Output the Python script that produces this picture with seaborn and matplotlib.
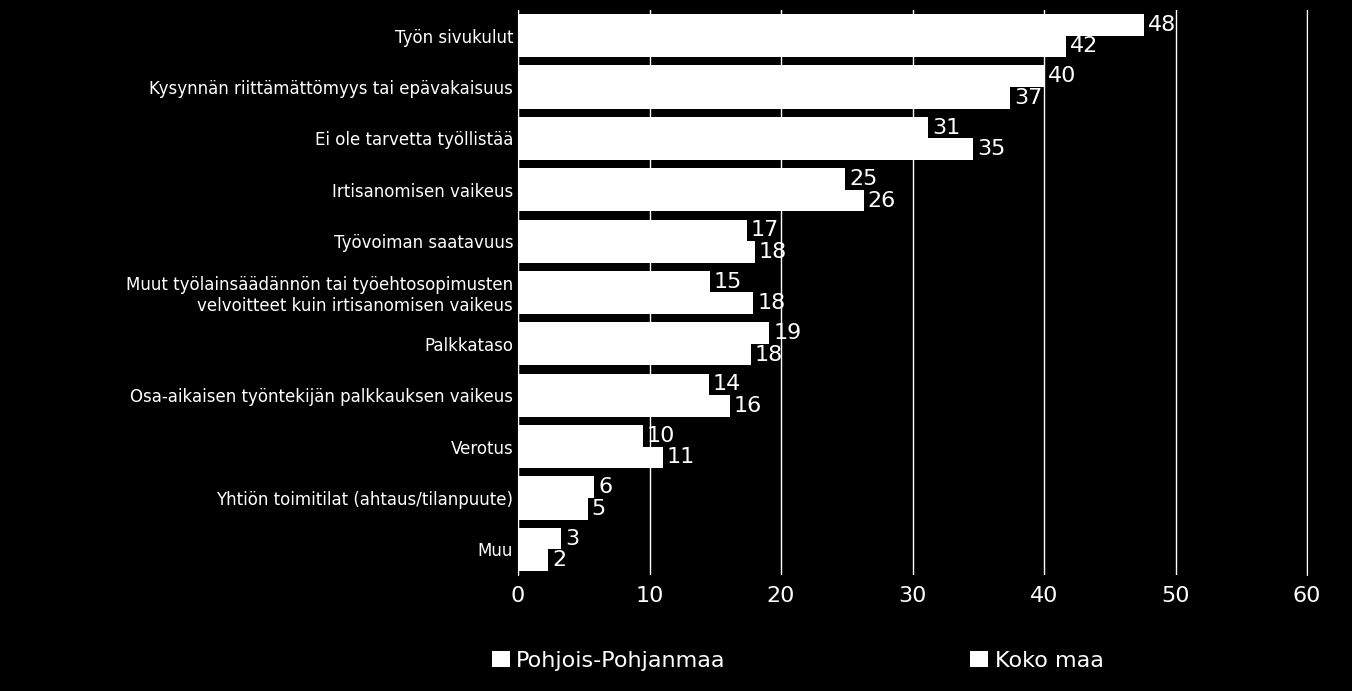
import matplotlib
matplotlib.use("Agg")
import matplotlib.pyplot as plt
import seaborn as sns
import pandas as pd

categories = ["Työn sivukulut", "Kysynnän riittämättömyys tai epävakaisuus", "Ei ole tarvetta työllistää",
              "Irtisanomisen vaikeus", "Työvoiman saatavuus",
              "Muut työlainsäädännön tai työehtosopimusten\nvelvoitteet kuin irtisanomisen vaikeus",
              "Palkkataso", "Osa-aikaisen työntekijän palkkauksen vaikeus", "Verotus",
              "Yhtiön toimitilat (ahtaus/tilanpuute)", "Muu"]
pohjois = [47.6, 40.0, 31.2, 24.9, 17.4, 14.6, 19.1, 14.5, 9.5, 5.8, 3.3]
koko = [41.7, 37.4, 34.6, 26.3, 18.0, 17.9, 17.7, 16.1, 11.0, 5.3, 2.3]
series = ["Pohjois-Pohjanmaa", "Koko maa"]

df = pd.DataFrame({"cat": categories * 2, "val": pohjois + koko,
                   "ser": [series[0]] * len(categories) + [series[1]] * len(categories)})

fig = plt.figure(figsize=(13.52, 6.91), dpi=100, facecolor="black")
ax = fig.add_axes([518/1352, 1-575/691, (1307-518)/1352, (575-10)/691])
ax.set_facecolor("black")
sns.barplot(data=df, y="cat", x="val", hue="ser", palette=["white", "white"], orient="h",
            width=0.84, ax=ax, legend=False, saturation=1)
ax.set_xlim(0, 60)
ax.set_xticks(range(0, 61, 10))
ax.xaxis.grid(True, color="white", linewidth=1)
ax.set_axisbelow(True)
for s in ["top", "bottom"]:
    ax.spines[s].set_visible(False)
ax.spines["left"].set_color("white")
ax.spines["right"].set_color("white")
ax.tick_params(colors="white", length=0, labelsize=12)
ax.tick_params(axis="x", labelsize=16, pad=8)
ax.set_xlabel("")
ax.set_ylabel("")
for c in ax.containers:
    for bar in c:
        w = bar.get_width()
        y = bar.get_y() + bar.get_height() / 2
        ax.text(w + 0.3, y, f"{w:.0f}", color="white", fontsize=16, va="center", ha="left")
from matplotlib.patches import Patch
h = [Patch(facecolor="white", label=s) for s in series]
leg = fig.legend(handles=h, loc="lower center", ncol=2, frameon=False, fontsize=16,
                 labelcolor="white", bbox_to_anchor=(0.59, 0.0), columnspacing=11,
                 handlelength=0.8, handletextpad=0.3)
fig.savefig("out.png", facecolor="black")
